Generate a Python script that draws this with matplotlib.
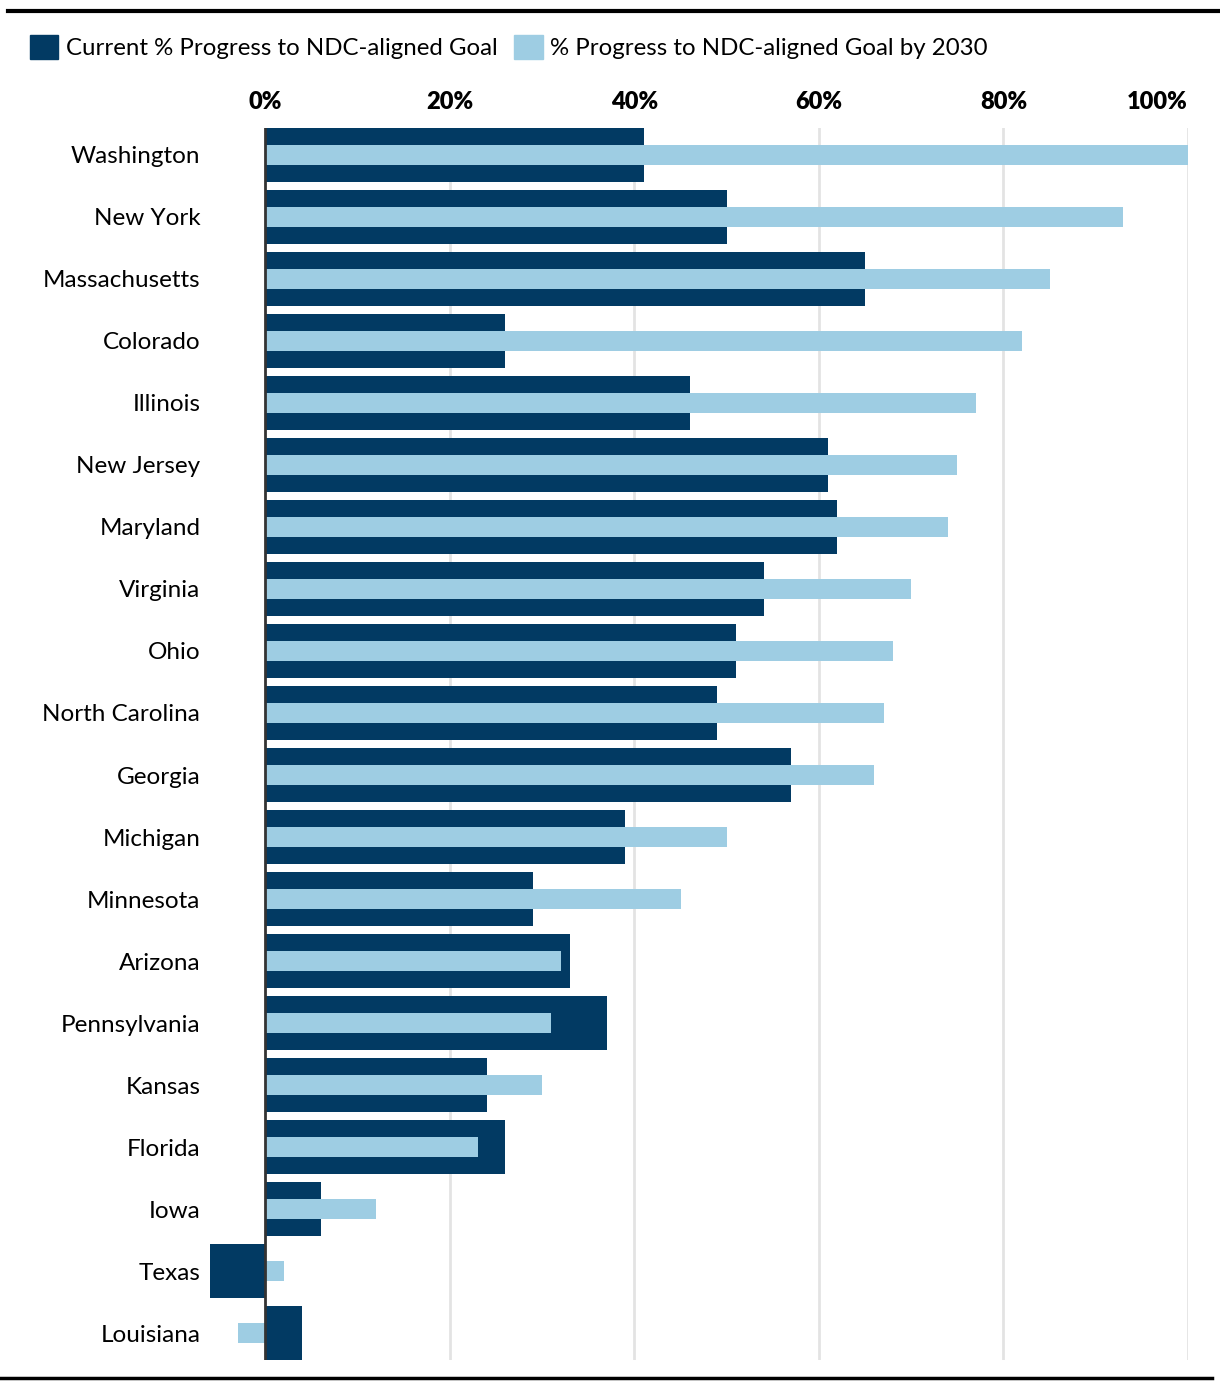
import matplotlib.pyplot as plt
from matplotlib.patches import Patch
from matplotlib.lines import Line2D

states = ["Washington", "New York", "Massachusetts", "Colorado", "Illinois",
          "New Jersey", "Maryland", "Virginia", "Ohio", "North Carolina",
          "Georgia", "Michigan", "Minnesota", "Arizona", "Pennsylvania",
          "Kansas", "Florida", "Iowa", "Texas", "Louisiana"]
current = [41, 50, 65, 26, 46, 61, 62, 54, 51, 49,
           57, 39, 29, 33, 37, 24, 26, 6, -6, 4]
by_2030 = [100, 93, 85, 82, 77, 75, 74, 70, 68, 67,
           66, 50, 45, 32, 31, 30, 23, 12, 2, -3]
ticks = [0, 20, 40, 60, 80, 100]
tick_labels = ["0%", "20%", "40%", "60%", "80%", "100%"]

dark = "#023a63"
light = "#9ecde3"

plt.rcParams["font.family"] = ["Lato", "DejaVu Sans"]

fig = plt.figure(figsize=(12.2, 13.9), dpi=100)
W, H = 1220, 1390
ax = fig.add_axes([210 / W, 1 - 1360 / H, (1188 - 210) / W, (1360 - 128) / H])

y = list(range(len(states)))
ax.barh(y, current, height=0.87, color=dark, zorder=2)
ax.barh(y, by_2030, height=0.33, color=light, zorder=3)

ax.set_xlim(-6, 100)
ax.set_ylim(len(states) - 0.565, -0.435)

for t in ticks[1:]:
    ax.axvline(t, color="#e3e3e3", lw=2, zorder=0)
ax.axvline(0, color="#333333", lw=2, zorder=4)

ax.xaxis.tick_top()
ax.set_xticks(ticks)
ax.set_xticklabels(tick_labels, fontsize=17, fontweight="heavy")
ax.get_xticklabels()[-1].set_ha("right")
ax.tick_params(axis="x", length=0, pad=11)
ax.set_yticks(y)
ax.set_yticklabels(states, fontsize=17.5)
ax.tick_params(axis="y", length=0, pad=7)
for s in ax.spines.values():
    s.set_visible(False)

handles = [Patch(color=dark, label="Current % Progress to NDC-aligned Goal"),
           Patch(color=light, label="% Progress to NDC-aligned Goal by 2030")]
fig.legend(handles=handles, loc="center left", bbox_to_anchor=(20 / W, 1 - 47 / H),
           ncol=2, frameon=False, fontsize=17.3, handlelength=1.2, handleheight=1.2,
           handletextpad=0.3, columnspacing=0.7, borderaxespad=0)

fig.add_artist(Line2D([8 / W, 1], [1 - 11 / H, 1 - 11 / H], color="black", lw=3))
fig.add_artist(Line2D([0, 1212 / W], [1 - 1378 / H, 1 - 1378 / H], color="black", lw=2.5))

fig.savefig("out.png", dpi=100)
